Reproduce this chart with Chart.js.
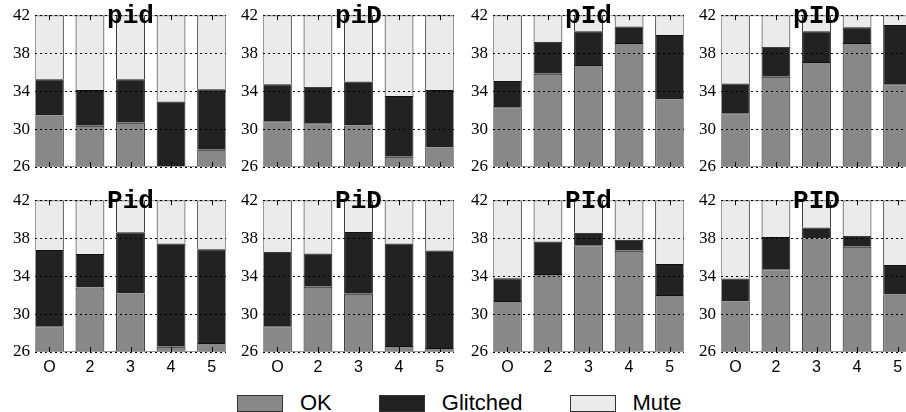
<!DOCTYPE html>
<html>
<head>
<meta charset="utf-8">
<script src="https://cdn.jsdelivr.net/npm/chart.js@4.4.1/dist/chart.umd.min.js"></script>
<style>
  html, body { margin: 0; padding: 0; background: #fff; overflow: hidden; }
  body { width: 906px; height: 412px; position: relative; }
  canvas { position: absolute; }
  #legend { position: absolute; left: 237px; top: 390px; display: flex; align-items: center;
    font-family: "Liberation Sans", Arial, sans-serif; font-size: 22px; color: #000; }
  .item { display: flex; align-items: center; margin-right: 47px; }
  .swatch { width: 44px; height: 15px; border: 1px solid #333; margin-right: 17px; }
</style>
</head>
<body>
<div id="legend"></div>
<script>
const categories = ['O', '2', '3', '4', '5'];
const panelTitles = ['pid', 'piD', 'pId', 'pID', 'Pid', 'PiD', 'PId', 'PID'];
const seriesNames = ['OK', 'Glitched', 'Mute'];
const seriesColors = ['#888888', '#222222', '#ebebeb'];
const yTicks = [26, 30, 34, 38, 42];

// one row per panel, one value per category
const okValues = [
  [31.43, 30.34, 30.66, 26.07, 27.82],
  [30.83, 30.62, 30.38, 27.08, 28.06],
  [32.30, 35.84, 36.75, 39.06, 33.11],
  [31.67, 35.52, 37.06, 39.06, 34.72],
  [28.72, 32.80, 32.17, 26.56, 26.94],
  [28.72, 32.87, 32.14, 26.63, 26.42],
  [31.37, 34.23, 37.26, 36.67, 32.00],
  [31.33, 34.72, 37.96, 37.09, 32.07]
];
const glitchedValues = [
  [3.81, 3.78, 4.58, 6.83, 6.37],
  [3.89, 3.85, 4.62, 6.41, 6.06],
  [2.77, 3.36, 3.57, 1.75, 6.79],
  [3.12, 3.15, 3.26, 1.68, 6.26],
  [8.02, 3.52, 6.45, 10.87, 9.90],
  [7.84, 3.52, 6.51, 10.80, 10.28],
  [2.40, 3.41, 1.32, 1.15, 3.27],
  [2.41, 3.41, 1.15, 1.15, 3.10]
];
const muteValues = [
  [6.76, 7.88, 6.76, 9.10, 7.81],
  [7.28, 7.53, 7.00, 8.51, 7.88],
  [6.93, 2.80, 1.68, 1.19, 2.10],
  [7.21, 3.33, 1.68, 1.26, 1.02],
  [5.26, 5.68, 3.38, 4.57, 5.16],
  [5.44, 5.61, 3.35, 4.57, 5.30],
  [8.23, 4.36, 3.42, 4.18, 6.73],
  [8.26, 3.87, 2.89, 3.76, 6.83]
];

const colLeft = [35, 263, 493, 721];
const rowTop = [14, 199];
const plotW = 191, plotH = 153;
const padL = 40, padT = 14, canvasW = 240, canvasH = 200;

const panelDecor = {
  id: 'panelDecor',
  afterDatasetsDraw(chart) {
    const a = chart.chartArea, ctx = chart.ctx;
    ctx.save();
    ctx.strokeStyle = '#999';
    ctx.lineWidth = 1;
    ctx.strokeRect(a.left + 0.5, a.top + 0.5, a.width - 1, a.height - 1);
    ctx.restore();
  },
  afterDraw(chart, args, opts) {
    const a = chart.chartArea, ctx = chart.ctx, xs = chart.scales.x;
    ctx.save();
    ctx.strokeStyle = '#000';
    ctx.lineWidth = 1;
    categories.forEach((c, i) => {
      const px = Math.round(xs.getPixelForValue(i)) + 0.5;
      ctx.beginPath();
      ctx.moveTo(px, a.top); ctx.lineTo(px, a.top + 5);
      ctx.moveTo(px, a.bottom); ctx.lineTo(px, a.bottom - 5);
      ctx.stroke();
    });
    ctx.font = 'bold 26px "Liberation Mono", "Courier New", monospace';
    ctx.fillStyle = '#000';
    ctx.textAlign = 'center';
    ctx.textBaseline = 'alphabetic';
    ctx.fillText(opts.title, (a.left + a.right) / 2, a.top + 8);
    ctx.restore();
  }
};

const allSeries = [okValues, glitchedValues, muteValues];

panelTitles.forEach((title, p) => {
  const col = p % 4, row = Math.floor(p / 4);
  const cv = document.createElement('canvas');
  cv.width = canvasW;
  cv.height = canvasH;
  cv.style.left = (colLeft[col] - padL) + 'px';
  cv.style.top = (rowTop[row] - padT) + 'px';
  document.body.appendChild(cv);

  new Chart(cv, {
    type: 'bar',
    data: {
      datasets: seriesNames.map((name, s) => ({
        label: name,
        data: allSeries[s][p].map((v, i) => ({ x: i, y: v })),
        backgroundColor: seriesColors[s],
        borderColor: '#111',
        borderWidth: 1,
        categoryPercentage: 1,
        barPercentage: 0.71,
        clip: 0
      }))
    },
    options: {
      responsive: false,
      animation: false,
      devicePixelRatio: 1,
      layout: { padding: { top: padT, right: canvasW - padL - plotW, left: 0, bottom: 0 } },
      plugins: {
        legend: { display: false },
        tooltip: { enabled: false },
        panelDecor: { title: title }
      },
      scales: {
        x: {
          type: 'linear',
          stacked: true,
          offset: false,
          min: -0.355,
          max: 4.355,
          grid: { display: false, drawTicks: false },
          border: { display: false },
          afterBuildTicks: s => { s.ticks = categories.map((c, i) => ({ value: i })); },
          afterFit: s => { s.height = canvasH - padT - plotH; },
          ticks: {
            display: row === 1,
            autoSkip: false,
            maxRotation: 0,
            padding: 6,
            color: '#000',
            font: { family: '"Liberation Sans", Arial, sans-serif', size: 16 },
            callback: v => categories[v]
          }
        },
        y: {
          stacked: true,
          min: 26,
          max: 42,
          afterBuildTicks: s => { s.ticks = yTicks.map(v => ({ value: v })); },
          afterFit: s => { s.width = padL; },
          grid: { color: '#000', lineWidth: 1, z: 1, drawTicks: false },
          border: { display: false, dash: [2, 3] },
          ticks: {
            padding: 5,
            color: '#000',
            font: { family: '"Liberation Serif", "Times New Roman", serif', size: 17 }
          }
        }
      }
    },
    plugins: [panelDecor]
  });
});

const legend = document.getElementById('legend');
seriesNames.forEach((name, s) => {
  const item = document.createElement('div');
  item.className = 'item';
  const sw = document.createElement('div');
  sw.className = 'swatch';
  sw.style.background = seriesColors[s];
  const label = document.createElement('span');
  label.textContent = name;
  item.appendChild(sw);
  item.appendChild(label);
  legend.appendChild(item);
});
</script>
</body>
</html>
